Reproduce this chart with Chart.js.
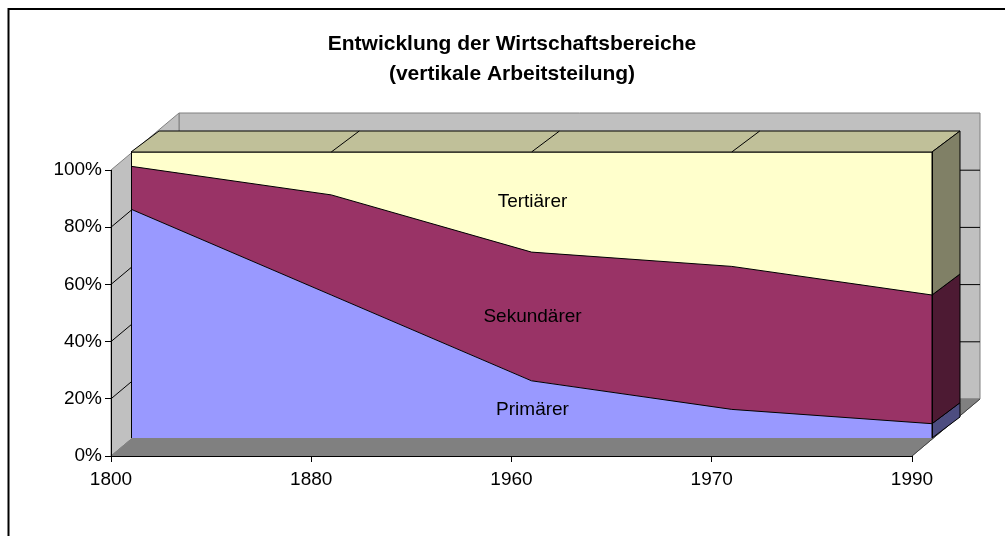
<!DOCTYPE html>
<html>
<head>
<meta charset="utf-8">
<script src="https://cdn.jsdelivr.net/npm/chart.js@4/dist/chart.umd.min.js"></script>
<style>
  body { margin: 0; background: #fff; }
  #wrap { width: 1005px; height: 536px; }
</style>
</head>
<body>
<div id="wrap"><canvas id="chart" width="1005" height="536"></canvas></div>
<script>
// data (100% stacked)
var years = ['1800', '1880', '1960', '1970', '1990'];
var primaer = [80, 50, 20, 10, 5];
var sekundaer = [15, 35, 45, 50, 45];
var tertiaer = [5, 15, 35, 40, 50];
var percentTicks = [0, 20, 40, 60, 80, 100];
var seriesNames = ['Primärer', 'Sekundärer', 'Tertiärer'];
var titleLines = ['Entwicklung der Wirtschaftsbereiche', '(vertikale Arbeitsteilung)'];

var FONT = "'Liberation Sans', Arial, sans-serif";
var fill = ['#9999ff', '#993366', '#ffffcc'];
var side = ['#4d4d80', '#4d1a33', '#808066'];
var topFace = '#c0c099';

// 3d offsets: wall depth, front and back of the series
var DEPTH = [68, -57];
var FRONT = [20, -18];
var BACK = [48, -39];

function poly(ctx, pts, fillStyle, stroke) {
  ctx.beginPath();
  ctx.moveTo(pts[0][0], pts[0][1]);
  for (var i = 1; i < pts.length; i++) ctx.lineTo(pts[i][0], pts[i][1]);
  ctx.closePath();
  if (fillStyle) { ctx.fillStyle = fillStyle; ctx.fill(); }
  if (stroke) { ctx.strokeStyle = stroke; ctx.lineWidth = 1; ctx.stroke(); }
}

function line(ctx, a, b, color) {
  ctx.beginPath();
  ctx.moveTo(a[0], a[1]);
  ctx.lineTo(b[0], b[1]);
  ctx.strokeStyle = color;
  ctx.lineWidth = 1;
  ctx.stroke();
}

var threeD = {
  id: 'threeD',
  beforeDraw(chart) {
    var ctx = chart.ctx, xs = chart.scales.x, ys = chart.scales.y;
    var x0 = xs.getPixelForValue(0), xN = xs.getPixelForValue(years.length - 1);
    var yb = ys.getPixelForValue(0), yt = ys.getPixelForValue(100);
    var dx = DEPTH[0], dy = DEPTH[1];
    ctx.save();

    // outer frame
    ctx.lineWidth = 2;
    ctx.strokeStyle = '#000';
    ctx.strokeRect(8.5, 9, 1100, 600);

    // title
    ctx.fillStyle = '#000';
    ctx.font = 'bold 21px ' + FONT;
    ctx.textAlign = 'center';
    ctx.textBaseline = 'alphabetic';
    ctx.fillText(titleLines[0], 512, 50);
    ctx.fillText(titleLines[1], 512, 80);

    // walls + floor
    poly(ctx, [[x0 + dx, yt + dy], [xN + dx, yt + dy], [xN + dx, yb + dy], [x0 + dx, yb + dy]], '#c0c0c0', '#808080');
    poly(ctx, [[x0, yb], [x0, yt], [x0 + dx, yt + dy], [x0 + dx, yb + dy]], '#c0c0c0', '#808080');
    poly(ctx, [[x0, yb], [xN, yb], [xN + dx, yb + dy], [x0 + dx, yb + dy]], '#808080', '#808080');
    line(ctx, [xN, yb], [xN + dx, yb + dy], '#404040');

    // gridlines on the walls
    percentTicks.forEach(function(v) {
      if (v === 0 || v === 100) return;
      var py = ys.getPixelForValue(v);
      ctx.beginPath();
      ctx.moveTo(x0, py);
      ctx.lineTo(x0 + dx, py + dy);
      ctx.lineTo(xN + dx, py + dy);
      ctx.strokeStyle = '#000';
      ctx.lineWidth = 1;
      ctx.stroke();
    });
    ctx.restore();
  },
  beforeDatasetsDraw(chart) {
    chart.ctx.save();
    chart.ctx.translate(FRONT[0], FRONT[1]);
  },
  afterDatasetsDraw(chart) {
    var ctx = chart.ctx, xs = chart.scales.x, ys = chart.scales.y;
    ctx.restore();
    ctx.save();
    var n = years.length;
    var x0 = xs.getPixelForValue(0), xN = xs.getPixelForValue(n - 1);
    var fx = FRONT[0], fy = FRONT[1], bx = BACK[0], by = BACK[1];
    var stacks = [primaer, sekundaer, tertiaer];

    // top face of the highest series
    var topVal = primaer[0] + sekundaer[0] + tertiaer[0];
    var pt = ys.getPixelForValue(topVal);
    poly(ctx, [[x0 + fx, pt + fy], [xN + fx, pt + fy], [xN + bx, pt + by], [x0 + bx, pt + by]], topFace, '#000');
    for (var i = 1; i < n - 1; i++) {
      var xi = xs.getPixelForValue(i);
      line(ctx, [xi + fx, pt + fy], [xi + bx, pt + by], '#000');
    }

    // right side faces
    var base = 0;
    stacks.forEach(function(s, k) {
      var lo = ys.getPixelForValue(base), hi = ys.getPixelForValue(base + s[n - 1]);
      poly(ctx, [[xN + fx, hi + fy], [xN + bx, hi + by], [xN + bx, lo + by], [xN + fx, lo + fy]], side[k], '#000');
      base += s[n - 1];
    });

    // front face edges
    var yb = ys.getPixelForValue(0);
    line(ctx, [x0 + fx + 0.5, pt + fy], [x0 + fx + 0.5, yb + fy], '#000');
    line(ctx, [xN + fx + 0.5, pt + fy], [xN + fx + 0.5, yb + fy], '#000');

    // series names in the middle of each band
    var mid = 2, acc = 0;
    ctx.fillStyle = '#000';
    ctx.font = '19px ' + FONT;
    ctx.textAlign = 'center';
    ctx.textBaseline = 'middle';
    stacks.forEach(function(s, k) {
      var py = ys.getPixelForValue(acc + s[mid] / 2);
      ctx.fillText(seriesNames[k], xs.getPixelForValue(mid) + fx + 1, py + fy);
      acc += s[mid];
    });
    ctx.restore();
  }
};

var ctx = document.getElementById('chart').getContext('2d');
var myChart = new Chart(ctx, {
  type: 'line',
  data: {
    labels: years,
    datasets: [
      { label: seriesNames[0], data: primaer, fill: 'origin', backgroundColor: fill[0] },
      { label: seriesNames[1], data: sekundaer, fill: '-1', backgroundColor: fill[1] },
      { label: seriesNames[2], data: tertiaer, fill: '-1', backgroundColor: fill[2] }
    ]
  },
  options: {
    responsive: false,
    animation: false,
    devicePixelRatio: 1,
    layout: { padding: { left: 0, top: 170, right: 93, bottom: 40 } },
    elements: {
      line: { borderColor: '#000', borderWidth: 1, tension: 0 },
      point: { radius: 0 }
    },
    plugins: {
      legend: { display: false },
      title: { display: false },
      tooltip: { enabled: false }
    },
    scales: {
      x: {
        type: 'category',
        offset: false,
        afterFit: function(scale) { scale.height = 40; },
        grid: { offset: false, drawOnChartArea: false, color: '#000', tickLength: 6 },
        border: { color: '#000' },
        ticks: { color: '#000', padding: 6, maxRotation: 0, autoSkip: false, font: { family: FONT, size: 19 } }
      },
      y: {
        stacked: true,
        min: 0,
        max: 100,
        afterFit: function(scale) { scale.width = 111; },
        afterBuildTicks: function(scale) {
          scale.ticks = percentTicks.map(function(v) { return { value: v }; });
        },
        grid: { drawOnChartArea: false, color: '#000', tickLength: 6 },
        border: { color: '#000' },
        ticks: {
          color: '#000',
          padding: 3,
          font: { family: FONT, size: 19 },
          callback: function(v) { return v + '%'; }
        }
      }
    }
  },
  plugins: [threeD]
});
</script>
</body>
</html>
